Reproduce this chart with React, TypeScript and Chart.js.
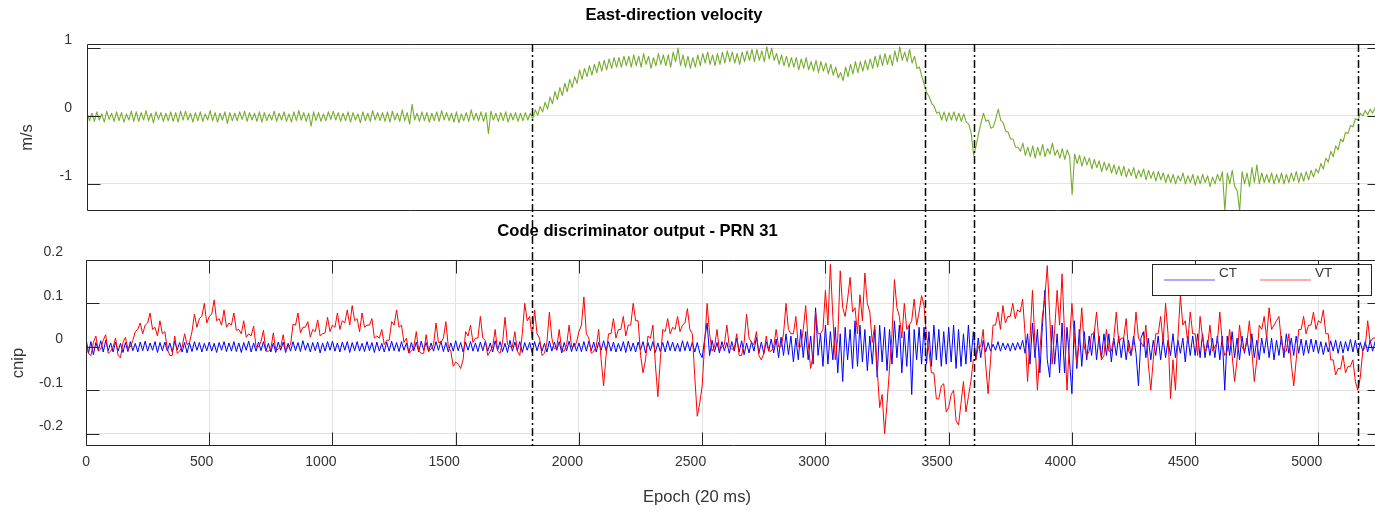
import React, { useEffect, useRef } from "react";
import { Chart, registerables } from "chart.js";

Chart.register(...registerables);

// ---------- data ----------
const EPOCH_STEP = 10; // one sample every 10 epochs
const X_MAX = 5254;
const X_TICKS = [0, 500, 1000, 1500, 2000, 2500, 3000, 3500, 4000, 4500, 5000];
const VEL_TICKS = [-1, 0, 1];
const VEL_RANGE = [-1.4, 1.06];
const CHIP_TICKS = [-0.2, -0.1, 0, 0.1, 0.2];
const CHIP_RANGE = [-0.2285, 0.2];
const EVENT_EPOCHS = [1808, 3404, 3602, 5162];
const SERIES_NAMES = ["CT", "VT"];

// East velocity, in cm/s (hundredths of m/s); rows of 200 epochs
const VEL_CM = [
  5, -7, 4, -8, 6, -6, 3, -9, 7, -5, 4, -8, 6, -7, 5, -9, 3, -6, 7, -8,
  6, -8, 5, -6, 8, -7, 4, -10, 6, -5, 5, -8, 4, -7, 6, -8, 5, -9, 7, -6,
  7, -6, 4, -9, 5, -7, 6, -8, 3, -6, 8, -7, 5, -9, 4, -6, 6, -11, 5, -7,
  4, -7, 6, -5, 7, -8, 5, -6, 4, -8, 6, -9, 5, -7, 3, -6, 7, -8, 4, -6,
  6, -8, 3, -9, 6, -7, 8, -6, 5, -8, 4, -15, 6, -7, 5, -8, 3, -7, 6, -5,
  7, -6, 5, -8, 4, -7, 6, -9, 5, -6, 3, -10, 6, -7, 4, -8, 8, -6, 5, -7,
  5, -8, 6, -9, 7, -6, 4, -8, 9, -7, 5, -12, 17, -6, 4, -8, 6, -7, 5, -9,
  4, -7, 6, -8, 8, -6, 5, -7, 4, -9, 6, -10, 3, -7, 5, -8, 9, -6, 4, -7,
  6, -8, 5, -26, 7, -6, 4, -8, 5, -7, 6, -9, 4, -6, 5, -8, 4, -7, 5, -6,
  4, -4, 9, 1, 14, 6, 20, 10, 28, 18, 36, 24, 42, 30, 48, 36, 54, 42, 58, 48,
  68, 54, 70, 58, 74, 60, 76, 64, 80, 66, 82, 68, 84, 70, 86, 72, 86, 72, 88, 74,
  88, 72, 90, 74, 88, 72, 92, 76, 88, 70, 86, 74, 92, 76, 90, 74, 90, 72, 94, 80,
  100, 74, 90, 72, 88, 70, 86, 72, 90, 74, 92, 78, 94, 76, 90, 74, 92, 76, 94, 78,
  96, 80, 94, 78, 92, 76, 94, 80, 96, 82, 98, 80, 98, 82, 96, 80, 102, 84, 100, 82,
  92, 76, 90, 74, 88, 72, 86, 72, 86, 68, 84, 70, 86, 68, 80, 66, 82, 64, 80, 66,
  78, 62, 76, 60, 72, 56, 64, 52, 72, 58, 76, 62, 80, 64, 80, 66, 82, 68, 84, 70,
  88, 72, 90, 74, 92, 76, 90, 74, 96, 80, 102, 82, 94, 80, 98, 78, 88, 70, 72, 58,
  46, 34, 28, 18, 14, 4, 6, -6, 6, -8, 5, -6, 6, -7, 4, -8, 3, -9, -12, -25,
  -58, -44, -26, -10, 4, -8, -6, -18, -16, -4, 10, -6, -10, -22, -24, -34, -34, -46, -46, -52,
  -40, -58, -46, -60, -44, -62, -46, -58, -42, -60, -48, -56, -40, -58, -50, -62, -48, -64, -50, -60,
  -116, -56, -70, -58, -74, -60, -72, -62, -78, -64, -76, -66, -82, -68, -80, -70, -84, -72, -86, -74,
  -88, -74, -90, -78, -88, -76, -92, -80, -90, -78, -94, -80, -92, -82, -96, -82, -94, -84, -98, -86,
  -98, -86, -100, -88, -96, -84, -100, -88, -98, -86, -102, -88, -100, -86, -98, -88, -104, -90, -100, -86,
  -96, -82, -140, -84, -100, -80, -104, -110, -140, -82, -100, -84, -104, -76, -98, -72, -100, -84, -98, -86,
  -98, -84, -100, -86, -98, -84, -100, -86, -98, -84, -96, -82, -98, -84, -96, -82, -94, -80, -90, -78,
  -84, -70, -78, -62, -68, -52, -60, -44, -50, -34, -38, -24, -26, -14, -16, -4, -6, 4, 0, 8,
  2, 10, 4, 12, 2, 8,
];

// Code discriminator output, CT, in thousandths of a chip; rows of 200 epochs
const CT_MILLI = [
  20, -15, 12, -18, 10, -8, 14, -12, 15, -9, 9, -12, 11, -10, 8, -13, 10, -11, 12, -9,
  8, -12, 11, -9, 13, -10, 9, -8, 12, -13, 10, -9, 11, -10, 9, -12, 13, -7, 10, -12,
  10, -14, 9, -11, 12, -8, 10, -12, 8, -9, 11, -10, 8, -13, 10, -8, 12, -11, 9, -10,
  12, -11, 9, -13, 10, -8, 13, -12, 9, -10, 11, -9, 12, -10, 8, -12, 9, -13, 11, -8,
  11, -13, 8, -10, 12, -9, 10, -11, 14, -8, 9, -12, 10, -9, 11, -14, 9, -10, 12, -8,
  13, -10, 9, -12, 11, -8, 12, -13, 10, -9, 12, -10, 8, -11, 12, -9, 10, -13, 11, -10,
  8, -12, 11, -10, 13, -9, 10, -11, 12, -8, 9, -14, 10, -9, 11, -12, 13, -8, 10, -11,
  9, -10, 12, -8, 13, -11, 10, -12, 9, -10, 14, -9, 10, -12, 11, -8, 12, -10, 9, -11,
  11, -9, 13, -10, 9, -12, 14, -8, 12, -11, 8, -13, 15, -10, 11, -9, 12, -13, 10, -8,
  10, -13, 12, -9, 11, -10, 8, -12, 13, -10, 11, -8, 12, -14, 10, -9, 13, -11, 9, -10,
  9, -11, 12, -10, 13, -9, 11, -12, 10, -8, 14, -9, 12, -10, 11, -12, 8, -10, 12, -13,
  13, -10, 9, -12, 11, -8, 12, -14, 10, -9, 12, -13, 9, -11, 10, -12, 14, -9, 11, -10,
  8, -11, 14, -9, 12, -10, 11, -12, 10, -14, -25, 18, 55, -20, 15, -12, 10, -14, 12, -9,
  10, -15, 12, -10, 20, -12, 14, -18, 9, -14, 12, -10, 22, -15, 11, -16, 12, -10, 18, -14,
  18, -25, 22, -20, 30, -18, 25, -35, 20, -30, 40, -25, 35, -30, 25, -40, 90, -20, 30, -45,
  50, -40, 35, -30, 45, -60, 30, -80, 45, -30, 40, -50, 60, -45, 50, -35, 40, -55, 25, -40,
  40, -70, 50, -35, 45, -55, 40, -40, 60, -25, 50, -60, 35, -45, 50, -110, 40, -30, 45, -40,
  45, -40, 35, -45, 50, -30, 40, -45, 35, -40, 45, -35, 50, -50, 40, -45, 30, -40, 50, -35,
  35, -30, 20, -25, 15, -12, 10, -10, 6, -8, 12, -10, 9, -7, 8, -10, 9, -8, 10, -6,
  15, -15, 30, -40, 55, -25, 40, -60, 45, 130, -30, -70, 50, -40, 30, -60, 55, -60, 45, -30,
  -108, 60, -50, 40, -45, 35, -30, 25, -20, 35, -30, 25, -25, 30, -20, 30, -35, 20, -20, 25,
  -25, 20, -30, 15, -20, 25, -15, -90, 20, 35, -25, 20, -30, 15, -20, 25, -30, 20, -25, 15,
  -20, 30, -25, 15, -15, 20, -35, 25, -20, 25, -20, 30, -25, 30, -25, 15, -20, 20, -25, 25,
  -30, 25, -100, 25, -20, 35, -25, 20, -30, 25, -15, 20, -20, 30, -25, 15, -30, 20, -15, 25,
  -25, 20, -30, 15, -20, 25, -25, 30, -15, 20, -20, 25, -15, 18, -20, 15, -15, 18, -12, 16,
  -15, 12, -18, 10, -12, 14, -10, 16, -15, 13, -14, 12, -10, 17, -12, 15, -14, 10, -10, 12,
  -12, 15, -10, 12, -8, 10,
];

// Code discriminator output, VT, in thousandths of a chip; rows of 200 epochs
const VT_MILLI = [
  10, -15, -20, 10, 25, -10, -5, 15, 28, -15, -10, 0, 20, -20, -25, 10, 22, -5, 0, 15,
  35, 40, 55, 30, 50, 55, 78, 40, 45, 25, 60, 30, 35, -5, -20, -20, 25, -15, -10, 0,
  30, 5, 10, 35, 75, 45, 65, 70, 100, 55, 70, 75, 108, 60, 65, 50, 85, 45, 55, 50,
  78, 38, 40, 30, 60, 22, 30, 25, 48, 0, 0, 12, 38, -10, -10, -5, 32, -8, -5, 0,
  28, -10, 0, 5, 52, 50, 78, 32, 45, 45, 58, 22, 40, 35, 62, 25, 30, 32, 68, 35,
  50, 45, 78, 40, 60, 55, 85, 50, 95, 60, 65, 35, 78, 45, 50, 50, 65, 20, 25, 20,
  40, 5, 15, 15, 58, 50, 85, 45, 50, 10, 20, -15, -10, 0, 35, -10, -15, -15, 28, -10,
  -5, 5, 55, 10, 10, 20, 58, 0, -10, -45, -35, -40, -50, -30, 35, 25, 50, 10, 20, 20,
  70, 20, 15, -20, -10, 0, 40, -10, -15, 10, 68, 5, 0, 0, 35, -10, -20, 30, 100, 60,
  70, 20, 85, 30, 20, -20, -15, 10, 80, 20, -5, 0, 40, -10, -10, 5, 50, 0, 0, 10,
  35, 50, 115, 30, 20, -15, -10, 0, 40, -30, -90, -20, 30, 30, 65, 20, 40, 40, 70, 25,
  50, 50, 100, 60, 60, -20, -60, -30, 25, 20, 50, -40, -115, -30, 40, 35, 65, 30, 45, 40,
  70, 35, 50, 55, 88, 40, 30, -70, -160, -130, -90, 10, 100, 30, -10, 0, 40, -10, 0, 5,
  50, 0, -5, -5, 30, -20, -20, 10, 75, 20, 10, 5, 35, -20, -30, -15, 25, -10, -10, 0,
  40, 0, 0, 30, 100, 40, 30, 30, 70, 0, 0, 40, 95, 10, -50, -20, 80, 30, 30, 40,
  130, 50, 190, 70, -30, 20, 175, 90, 70, 110, 160, 80, 90, 30, 120, 60, 170, 100, 80, 10,
  50, -50, -140, -110, -200, -130, -50, 30, 155, 90, 70, 20, 100, 40, 50, 60, 110, 50, 80, 118,
  95, 25, -10, -60, -60, -120, -120, -90, -85, -150, -140, -110, -100, -170, -180, -130, -80, -150, -115, -80,
  -30, -30, 0, 0, 40, -40, -108, -30, 50, 50, 80, 40, 95, 55, 70, 70, 100, 65, 85, 80,
  110, 30, -80, 20, 130, 10, -100, -10, 70, 110, 187, 70, -40, 40, 130, 50, 168, 30, -100, 10,
  100, 20, -40, 10, 90, 0, -20, -10, 30, 30, 80, 10, -30, -20, 40, -10, -10, 20, 80, 10,
  20, 20, 65, -10, -20, 10, 80, 20, 10, 0, 50, -40, -100, -30, 30, 30, 70, 10, 100, 30,
  -119, -30, -100, 20, 118, 50, 60, 10, 80, 30, 30, -20, 70, 20, -10, 0, 50, -10, 0, 10,
  80, 10, -20, -10, 40, -20, -80, -30, 50, 0, -10, 10, 60, -10, -80, -30, 50, 40, 70, 20,
  90, 40, 50, 60, 70, 10, -10, -10, 30, -40, -90, -30, 40, 40, 70, 30, 50, 50, 80, 40,
  60, 55, 85, 30, 30, -30, -30, -65, -50, -50, -20, -60, -45, -45, -30, -80, -100, -70, -10, 0,
  60, 10, 20, 20, 40, -20,
];

// ---------- style ----------
const FONT = '"Liberation Sans", Arial, Helvetica, sans-serif';
const AXIS_COLOR = "#262626";
const GRID_COLOR = "#e3e3e3";
const TEXT_COLOR = "#333333";
const GREEN = "#77AC30";
const BLUE = "#0000FF";
const RED = "#FF0000";

const toPoints = (arr: number[], div: number) =>
  arr.map((v, i) => ({ x: i * EPOCH_STEP, y: v / div }));

type TextItem = {
  text: string;
  x: number;
  y: number;
  bold?: boolean;
  size: number;
  color: string;
  rotate?: boolean;
};

type FrameCfg = {
  id: string;
  yTicks: number[];
  xTicks: number[];
  lineFrom: "area" | number;
  lineTo: "area" | number;
  dashOffset: number;
  texts: TextItem[];
  legend: boolean;
};

function makeFramePlugin(cfg: FrameCfg) {
  return {
    id: cfg.id,
    afterDraw(chart: any) {
      const { ctx, chartArea: a, scales } = chart;
      const xs = scales.x;
      const ys = scales.y;
      const L = Math.round(a.left) + 0.5;
      const T = Math.round(a.top) + 0.5;
      const B = Math.round(a.bottom) - 0.5;
      const R = Math.round(a.right) - 0.5;
      ctx.save();

      // axes box
      ctx.strokeStyle = AXIS_COLOR;
      ctx.lineWidth = 1;
      ctx.setLineDash([]);
      ctx.beginPath();
      ctx.moveTo(R, T);
      ctx.lineTo(L, T);
      ctx.lineTo(L, B);
      ctx.lineTo(R, B);
      ctx.lineTo(R, T);
      // inside tick marks
      for (const v of cfg.yTicks) {
        const y = Math.round(ys.getPixelForValue(v)) + 0.5;
        ctx.moveTo(L, y);
        ctx.lineTo(L + 13, y);
        ctx.moveTo(R, y);
        ctx.lineTo(R - 13, y);
      }
      for (const v of cfg.xTicks) {
        const x = Math.round(xs.getPixelForValue(v)) + 0.5;
        ctx.moveTo(x, T);
        ctx.lineTo(x, T + 13);
        ctx.moveTo(x, B);
        ctx.lineTo(x, B - 13);
      }
      ctx.stroke();

      // texts
      for (const t of cfg.texts) {
        ctx.save();
        ctx.font = `${t.bold ? "bold " : ""}${t.size}px ${FONT}`;
        ctx.fillStyle = t.color;
        ctx.textAlign = "center";
        ctx.textBaseline = "middle";
        ctx.translate(t.x, t.y);
        if (t.rotate) ctx.rotate(-Math.PI / 2);
        ctx.fillText(t.text, 0, 0);
        ctx.restore();
      }

      // legend
      if (cfg.legend) {
        ctx.fillStyle = "#ffffff";
        ctx.fillRect(1152, 49, 219, 31);
        ctx.strokeStyle = AXIS_COLOR;
        ctx.lineWidth = 1;
        ctx.strokeRect(1152.5, 49.5, 219, 31);
        const entries = [
          { name: SERIES_NAMES[0], color: BLUE, x: 1164 },
          { name: SERIES_NAMES[1], color: RED, x: 1260 },
        ];
        ctx.font = `13.5px ${FONT}`;
        ctx.textAlign = "left";
        ctx.textBaseline = "middle";
        for (const e of entries) {
          ctx.strokeStyle = e.color;
          ctx.globalAlpha = 0.65;
          ctx.lineWidth = 1.2;
          ctx.beginPath();
          ctx.moveTo(e.x, 65);
          ctx.lineTo(e.x + 51, 65);
          ctx.stroke();
          ctx.globalAlpha = 1;
          ctx.fillStyle = TEXT_COLOR;
          ctx.fillText(e.name, e.x + 55, 58);
        }
      }

      // event markers (dash-dot)
      const y0 = cfg.lineFrom === "area" ? a.top : cfg.lineFrom;
      const y1 = cfg.lineTo === "area" ? a.bottom : cfg.lineTo;
      ctx.strokeStyle = "#000000";
      ctx.lineWidth = 1.5;
      ctx.setLineDash([8, 3, 2, 3]);
      ctx.lineDashOffset = cfg.dashOffset;
      for (const e of EVENT_EPOCHS) {
        const x = Math.round(xs.getPixelForValue(e)) + 0.5;
        ctx.beginPath();
        ctx.moveTo(x, y0);
        ctx.lineTo(x, y1);
        ctx.stroke();
      }
      ctx.restore();
    },
  };
}

const tickFont = { family: FONT, size: 14 };

const fixWidth = (w: number) => (s: any) => {
  s.width = w;
  s.paddingTop = 0;
  s.paddingBottom = 0;
};
const fixHeight = (h: number) => (s: any) => {
  s.height = h;
  s.paddingLeft = 0;
  s.paddingRight = 0;
};

function topConfig(): any {
  return {
    type: "line",
    data: {
      datasets: [
        {
          label: "East velocity",
          data: toPoints(VEL_CM, 100),
          borderColor: GREEN,
          borderWidth: 1.1,
          borderJoinStyle: "round",
          pointRadius: 0,
          tension: 0,
        },
      ],
    },
    options: {
      animation: false,
      responsive: false,
      devicePixelRatio: 1,
      layout: { padding: { top: 44, bottom: 0, left: 0, right: 4 } },
      plugins: { legend: { display: false }, tooltip: { enabled: false }, title: { display: false } },
      scales: {
        x: {
          type: "linear",
          min: 0,
          max: X_MAX,
          display: true,
          grid: { display: false },
          border: { display: false },
          ticks: { display: false },
          afterFit: fixHeight(4),
        },
        y: {
          type: "linear",
          min: VEL_RANGE[0],
          max: VEL_RANGE[1],
          afterBuildTicks: (s: any) => {
            s.ticks = VEL_TICKS.map((v) => ({ value: v }));
          },
          afterFit: fixWidth(87),
          grid: { color: GRID_COLOR, drawTicks: false, lineWidth: 1 },
          border: { display: false },
          ticks: {
            color: TEXT_COLOR,
            font: tickFont,
            padding: 15,
            labelOffset: -8,
            autoSkip: false,
            callback: (v: any) => String(v),
          },
        },
      },
    },
    plugins: [
      makeFramePlugin({
        id: "frameTop",
        yTicks: VEL_TICKS,
        xTicks: [],
        lineFrom: "area",
        lineTo: 215,
        dashOffset: 0,
        texts: [
          { text: "East-direction velocity", x: 674, y: 15.5, bold: true, size: 16.6, color: "#000000" },
          { text: "m/s", x: 27, y: 137.5, size: 16.6, color: TEXT_COLOR, rotate: true },
        ],
        legend: false,
      }),
    ],
  };
}

function bottomConfig(): any {
  return {
    type: "line",
    data: {
      datasets: [
        {
          label: SERIES_NAMES[1],
          data: toPoints(VT_MILLI, 1000),
          borderColor: RED,
          borderWidth: 1,
          borderJoinStyle: "round",
          pointRadius: 0,
          tension: 0,
          order: 0,
        },
        {
          label: SERIES_NAMES[0],
          data: toPoints(CT_MILLI, 1000),
          borderColor: BLUE,
          borderWidth: 1,
          borderJoinStyle: "round",
          pointRadius: 0,
          tension: 0,
          order: 1,
        },
      ],
    },
    options: {
      animation: false,
      responsive: false,
      devicePixelRatio: 1,
      layout: { padding: { top: 45, bottom: 0, left: 0, right: 4 } },
      plugins: { legend: { display: false }, tooltip: { enabled: false }, title: { display: false } },
      scales: {
        x: {
          type: "linear",
          min: 0,
          max: X_MAX,
          afterBuildTicks: (s: any) => {
            s.ticks = X_TICKS.map((v) => ({ value: v }));
          },
          afterFit: fixHeight(65),
          grid: { color: GRID_COLOR, drawTicks: false, lineWidth: 1 },
          border: { display: false },
          ticks: {
            color: TEXT_COLOR,
            font: tickFont,
            align: "end",
            labelOffset: 4,
            padding: 8,
            autoSkip: false,
            maxRotation: 0,
            minRotation: 0,
            callback: (v: any) => String(v),
          },
        },
        y: {
          type: "linear",
          min: CHIP_RANGE[0],
          max: CHIP_RANGE[1],
          afterBuildTicks: (s: any) => {
            s.ticks = CHIP_TICKS.map((v) => ({ value: v }));
          },
          afterFit: fixWidth(86),
          grid: { color: GRID_COLOR, drawTicks: false, lineWidth: 1 },
          border: { display: false },
          ticks: {
            color: TEXT_COLOR,
            font: tickFont,
            padding: 23,
            labelOffset: -7.5,
            autoSkip: false,
            callback: (v: any) => String(v),
          },
        },
      },
    },
    plugins: [
      makeFramePlugin({
        id: "frameBottom",
        yTicks: CHIP_TICKS,
        xTicks: X_TICKS,
        lineFrom: 0,
        lineTo: "area",
        dashOffset: 11,
        texts: [
          { text: "Code discriminator output - PRN 31", x: 637.5, y: 16, bold: true, size: 16.6, color: "#000000" },
          { text: "cnip", x: 18.5, y: 148, size: 16.6, color: TEXT_COLOR, rotate: true },
          { text: "Epoch (20 ms)", x: 697, y: 282.5, size: 16.6, color: TEXT_COLOR },
        ],
        legend: true,
      }),
    ],
  };
}

export default function App() {
  const topRef = useRef<HTMLCanvasElement>(null);
  const botRef = useRef<HTMLCanvasElement>(null);

  useEffect(() => {
    const top = new Chart(topRef.current as HTMLCanvasElement, topConfig());
    const bot = new Chart(botRef.current as HTMLCanvasElement, bottomConfig());
    return () => {
      top.destroy();
      bot.destroy();
    };
  }, []);

  return (
    <div
      style={{
        position: "fixed",
        left: 0,
        top: 0,
        width: 1375,
        height: 511,
        overflow: "hidden",
        background: "#ffffff",
      }}
    >
      <canvas
        ref={topRef}
        width={1385}
        height={215}
        style={{ position: "absolute", left: 0, top: 0, width: 1385, height: 215 }}
      />
      <canvas
        ref={botRef}
        width={1385}
        height={296}
        style={{ position: "absolute", left: 0, top: 215, width: 1385, height: 296 }}
      />
    </div>
  );
}
